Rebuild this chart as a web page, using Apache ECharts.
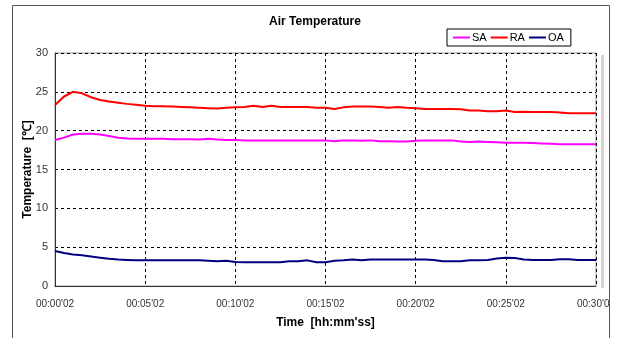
<!DOCTYPE html>
<html><head><meta charset="utf-8">
<script src="https://cdn.jsdelivr.net/npm/echarts@6/dist/echarts.min.js"></script>
<style>html,body{margin:0;padding:0;background:#fff}#c{width:618px;height:338px}</style>
</head><body><div id="c"></div>
<script>
// elapsed minutes from 00:00'02
const times = [0,0.5,1,1.5,2,2.5,3,3.5,4,4.5,5,5.5,6,6.5,7,7.5,8,8.5,9,9.5,10,10.5,11,11.5,12,12.5,13,13.5,14,14.5,15,15.5,16,16.5,17,17.5,18,18.5,19,19.5,20,20.5,21,21.5,22,22.5,23,23.5,24,24.5,25,25.5,26,26.5,27,27.5,28,28.5,29,29.5,30];
const RA = [23.3,24.4,25.0,24.8,24.3,23.95,23.75,23.6,23.45,23.35,23.2,23.15,23.15,23.1,23.05,23.0,22.95,22.9,22.85,22.95,23.0,23.05,23.2,23.05,23.2,23.05,23.05,23.05,23.05,22.95,22.95,22.8,23.0,23.1,23.1,23.1,23.05,22.95,23.05,22.95,22.9,22.8,22.8,22.8,22.8,22.75,22.6,22.6,22.5,22.5,22.6,22.4,22.45,22.4,22.4,22.4,22.35,22.25,22.25,22.25,22.25];
const SA = [18.8,19.1,19.5,19.6,19.6,19.5,19.3,19.1,19.0,18.95,18.95,18.95,18.95,18.9,18.9,18.9,18.85,18.95,18.85,18.8,18.8,18.75,18.75,18.75,18.75,18.75,18.75,18.75,18.75,18.75,18.75,18.65,18.75,18.75,18.7,18.75,18.65,18.65,18.6,18.6,18.7,18.75,18.75,18.75,18.75,18.6,18.55,18.6,18.55,18.5,18.45,18.45,18.45,18.4,18.35,18.3,18.25,18.25,18.25,18.25,18.25];
const OA = [4.5,4.25,4.07,3.95,3.8,3.65,3.5,3.4,3.35,3.3,3.3,3.3,3.3,3.3,3.3,3.3,3.3,3.25,3.2,3.25,3.1,3.07,3.07,3.07,3.07,3.07,3.2,3.2,3.3,3.05,3.05,3.25,3.3,3.4,3.3,3.4,3.4,3.4,3.4,3.4,3.4,3.4,3.35,3.2,3.2,3.2,3.3,3.3,3.35,3.55,3.65,3.6,3.4,3.35,3.35,3.35,3.45,3.45,3.35,3.35,3.35];
const xTickLabels = ["00:00'02","00:05'02","00:10'02","00:15'02","00:20'02","00:25'02","00:30'02"];
const yTicks = [0,5,10,15,20,25,30];
const seriesNames = ['SA','RA','OA'];
const seriesColors = ['#ff00ff','#ff0000','#000080'];

const pair = (arr) => times.map((t,i)=>[t,arr[i]]);
const chart = echarts.init(document.getElementById('c'), null, {renderer:'canvas'});
const font = 'Liberation Sans';
chart.setOption({
  animation:false,
  backgroundColor:'#fff',
  title:{text:'Air Temperature', left:310, top:11, textAlign:'center',
    textStyle:{fontFamily:font, fontSize:12, fontWeight:'bold', color:'#000'}},
  legend:{data:seriesNames, left:447, top:29, orient:'horizontal',
    borderColor:'#000', borderWidth:1, padding:[3,7,3,6], itemGap:4,
    itemWidth:17, itemHeight:2, icon:'rect',
    textStyle:{fontFamily:font, fontSize:11, color:'#000', padding:[0,0,0,-3]}},
  grid:{left:55, top:53, right:18, bottom:52, show:true, borderColor:'#999', borderWidth:1},
  xAxis:{type:'value', min:0, max:30, interval:5,
    name:'Time  [hh:mm\'ss]', nameLocation:'middle', nameGap:31, nameMoveOverlap:false,
    nameTextStyle:{fontFamily:font, fontSize:12, fontWeight:'bold', color:'#000'},
    axisLine:{lineStyle:{color:'#333', width:1}}, axisTick:{show:false},
    axisLabel:{fontFamily:font, fontSize:10, color:'#333', margin:13,
      formatter:(v)=>xTickLabels[Math.round(v/5)]},
    splitLine:{show:true, lineStyle:{color:'#000', type:[3,3], width:1}}},
  yAxis:{type:'value', min:0, max:30, interval:5,
    name:'Temperature  [℃]', nameLocation:'middle', nameGap:21, nameRotate:90, nameMoveOverlap:false,
    nameTextStyle:{fontFamily:font, fontSize:12, fontWeight:'bold', color:'#000'},
    axisLine:{show:true, lineStyle:{color:'#333', width:1}}, axisTick:{show:false},
    axisLabel:{fontFamily:font, fontSize:11, color:'#333', margin:7,
      formatter:(v)=> yTicks.includes(v) ? String(v) : ''},
    splitLine:{show:true, lineStyle:{color:'#000', type:[3,3], width:1}}},
  series:[
    {name:'SA', type:'line', data:pair(SA), showSymbol:false, color:seriesColors[0], lineStyle:{width:2}, z:3},
    {name:'RA', type:'line', data:pair(RA), showSymbol:false, color:seriesColors[1], lineStyle:{width:2}, z:3},
    {name:'OA', type:'line', data:pair(OA), showSymbol:false, color:seriesColors[2], lineStyle:{width:2}, z:3}
  ],
  graphic:[
    {type:'rect', shape:{x:601, y:55, width:3, height:233}, style:{fill:'#d4d4d4'}, z:0},
    {type:'rect', shape:{x:610, y:0, width:8, height:338}, style:{fill:'#fff'}, z:100},
    {type:'rect', shape:{x:12.5, y:5.5, width:597, height:350}, style:{fill:null, stroke:'#555', lineWidth:1}, z:101}
  ]
});
</script></body></html>
